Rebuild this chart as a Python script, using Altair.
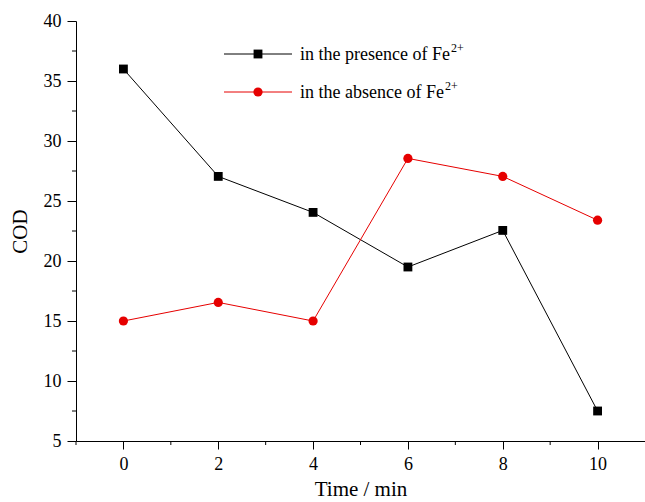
import altair as alt
import pandas as pd

time = [0, 2, 4, 6, 8, 10]
cod_presence = [36.0, 27.05, 24.05, 19.5, 22.55, 7.5]
cod_absence = [15.0, 16.55, 15.0, 28.55, 27.05, 23.4]
series_names = ["in the presence of Fe", "in the absence of Fe"]
y_major = [5, 10, 15, 20, 25, 30, 35, 40]
y_minor = [7.5, 12.5, 17.5, 22.5, 27.5, 32.5, 37.5]
x_major = [0, 2, 4, 6, 8, 10]
x_minor = [-1, 1, 3, 5, 7, 9]

FONT = "Liberation Serif"
RED = "#e60000"

df_p = pd.DataFrame({"t": time, "cod": cod_presence})
df_a = pd.DataFrame({"t": time, "cod": cod_absence})

xs = alt.Scale(domain=[-1, 11], nice=False, zero=False)
ys = alt.Scale(domain=[5, 40], nice=False, zero=False)

xaxis = alt.Axis(values=x_major, tickSize=8, labelPadding=6, title="Time / min",
                 titlePadding=5, labelFontSize=18, titleFontSize=21, format="d")
yaxis = alt.Axis(values=y_major, tickSize=9, labelPadding=6, title="COD",
                 titlePadding=13, labelFontSize=18, titleFontSize=21)

line_p = alt.Chart(df_p).mark_line(color="black", strokeWidth=1).encode(
    x=alt.X("t:Q", scale=xs, axis=xaxis),
    y=alt.Y("cod:Q", scale=ys, axis=yaxis),
)
pts_p = alt.Chart(df_p).mark_point(shape="square", filled=True, color="black", size=78, opacity=1).encode(
    x=alt.X("t:Q", scale=xs), y=alt.Y("cod:Q", scale=ys)
)
line_a = alt.Chart(df_a).mark_line(color=RED, strokeWidth=1).encode(
    x=alt.X("t:Q", scale=xs), y=alt.Y("cod:Q", scale=ys)
)
pts_a = alt.Chart(df_a).mark_point(shape="circle", filled=True, color=RED, size=85, opacity=1).encode(
    x=alt.X("t:Q", scale=xs), y=alt.Y("cod:Q", scale=ys)
)

ymin_df = pd.DataFrame({"v": y_minor})
xmin_df = pd.DataFrame({"v": x_minor})
ytick_minor = alt.Chart(ymin_df).mark_rule(color="black", strokeWidth=1).encode(
    y=alt.Y("v:Q", scale=ys), x=alt.value(-4), x2=alt.value(0)
)
xtick_minor = alt.Chart(xmin_df).mark_rule(color="black", strokeWidth=1).encode(
    x=alt.X("v:Q", scale=xs), y=alt.value(420), y2=alt.value(424)
)

one = pd.DataFrame({"a": [0]})
def legend_entry(ypos, color, shape, size, name, sup_x):
    r = alt.Chart(one).mark_rule(color=color, strokeWidth=1).encode(
        x=alt.value(148), x2=alt.value(216), y=alt.value(ypos))
    p = alt.Chart(one).mark_point(shape=shape, filled=True, color=color, size=size, opacity=1).encode(
        x=alt.value(182), y=alt.value(ypos))
    t = alt.Chart(one).mark_text(align="left", baseline="middle", font=FONT, fontSize=18, color="black").encode(
        x=alt.value(224), y=alt.value(ypos + 1), text=alt.value(name))
    s = alt.Chart(one).mark_text(align="left", baseline="middle", font=FONT, fontSize=12, color="black").encode(
        x=alt.value(sup_x), y=alt.value(ypos - 6), text=alt.value("2+"))
    return [r, p, t, s]

leg = legend_entry(33, "black", "square", 78, series_names[0], 375) + \
      legend_entry(71, RED, "circle", 85, series_names[1], 369)

chart = alt.layer(line_p, line_a, pts_p, pts_a, ytick_minor, xtick_minor, *leg).properties(
    width=569, height=420,
    autosize=alt.AutoSizeParams(type="none"),
    padding={"left": 76, "top": 21, "right": 0, "bottom": 61},
).configure_view(stroke=None).configure_axis(
    grid=False, domainColor="black", tickColor="black", labelColor="black",
    titleColor="black", labelFont=FONT, titleFont=FONT, domainWidth=1, tickWidth=1,
    titleFontWeight="normal"
)

chart.save("out.html", embed_options={"renderer": "svg", "actions": False})
